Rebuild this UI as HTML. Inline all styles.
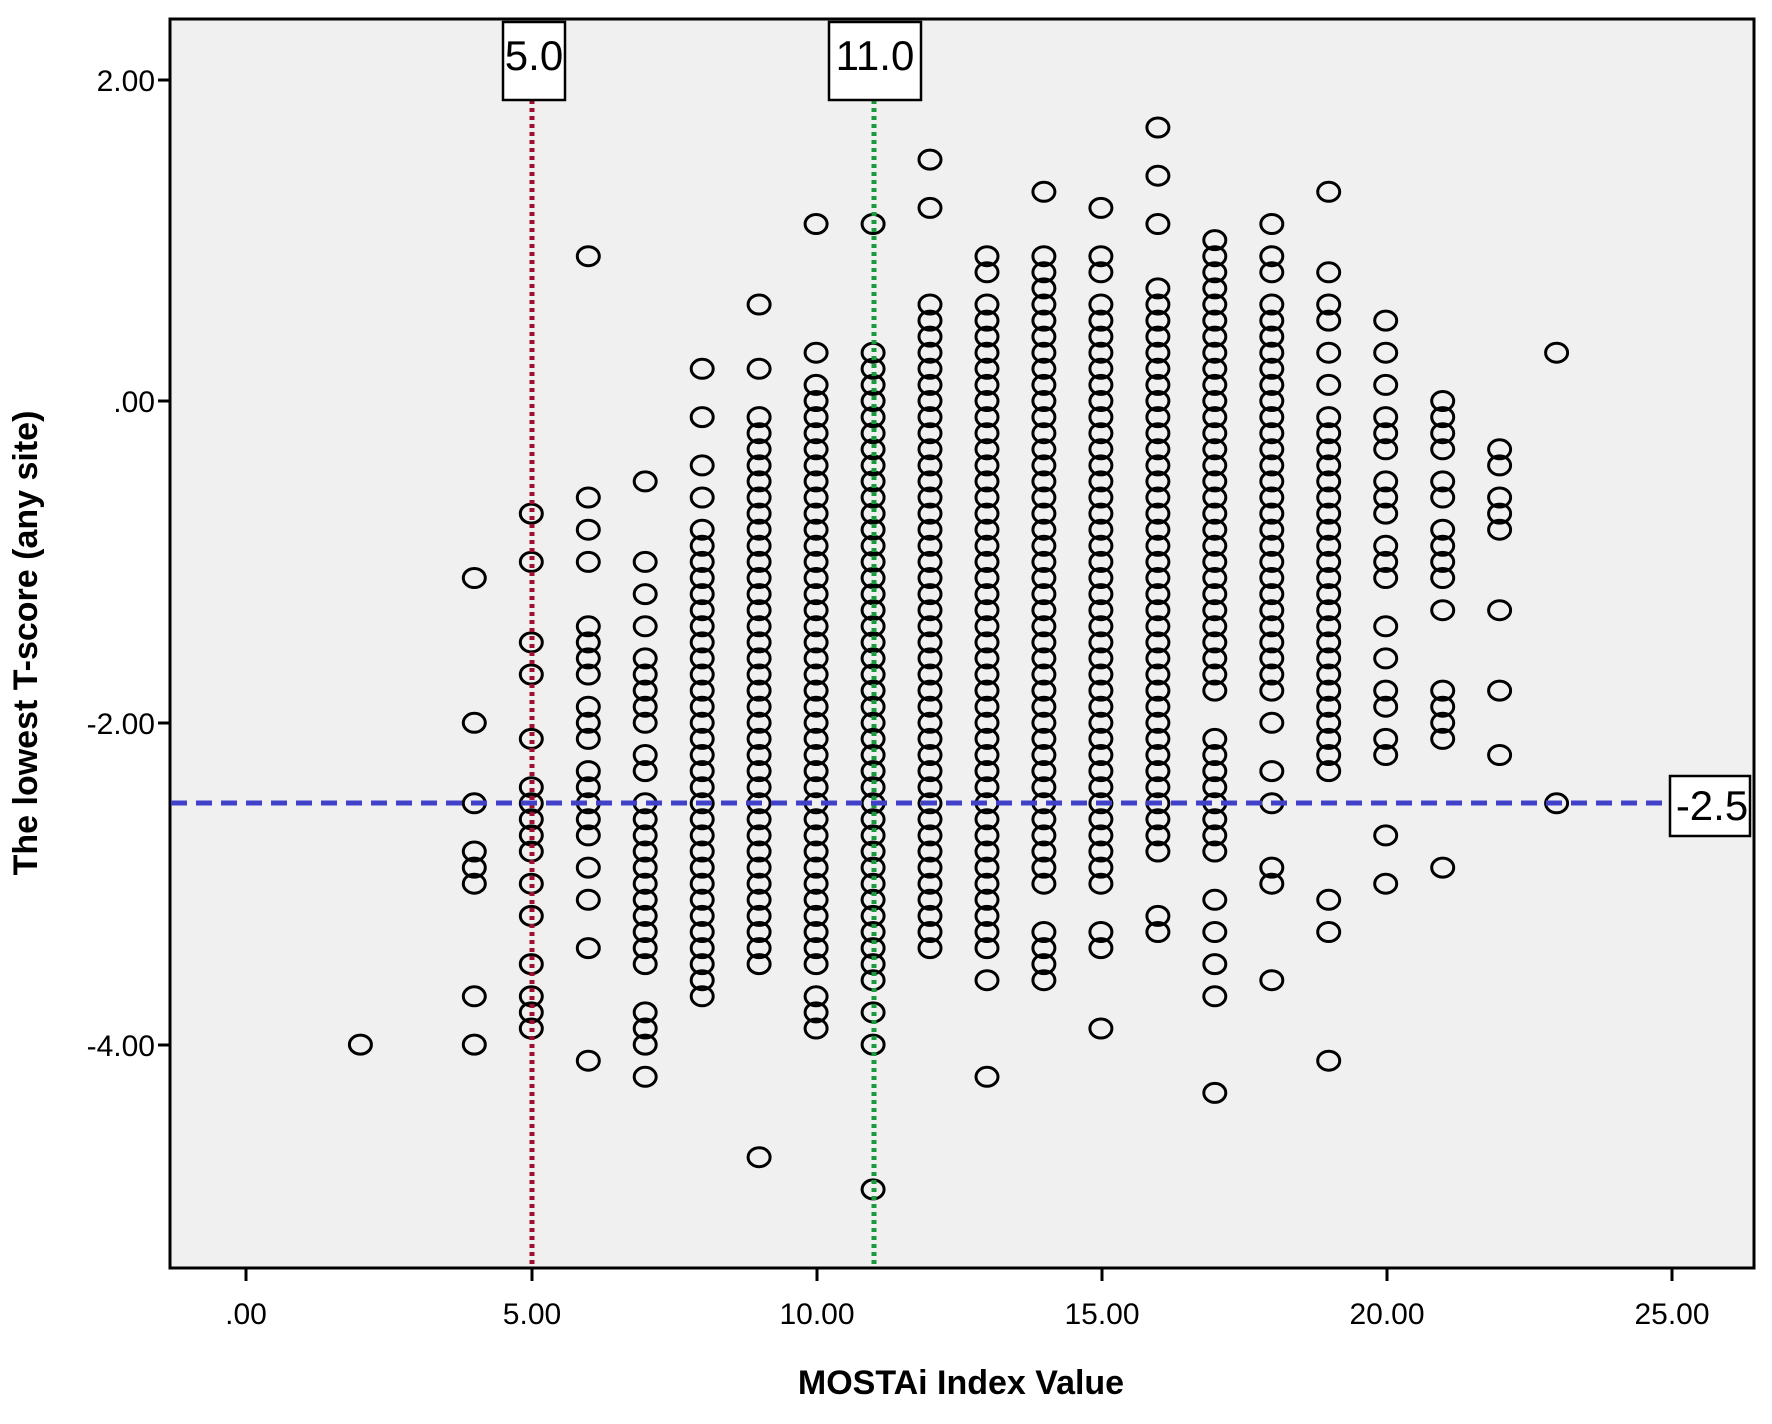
<!DOCTYPE html>
<html><head><meta charset="utf-8"><style>
html,body{margin:0;padding:0;background:#fff;}
svg{display:block;font-family:"Liberation Sans",sans-serif;}
</style></head><body>
<svg id="s" width="1772" height="1424" xmlns="http://www.w3.org/2000/svg">
<rect x="170" y="19" width="1584" height="1249" fill="#f0f0f0" stroke="#000" stroke-width="3"/>
<g stroke="#000" stroke-width="3">
<line x1="158" y1="80" x2="170" y2="80"/><line x1="158" y1="401" x2="170" y2="401"/>
<line x1="158" y1="723" x2="170" y2="723"/><line x1="158" y1="1045" x2="170" y2="1045"/>
<line x1="246" y1="1268" x2="246" y2="1281"/><line x1="532" y1="1268" x2="532" y2="1281"/>
<line x1="817" y1="1268" x2="817" y2="1281"/><line x1="1102" y1="1268" x2="1102" y2="1281"/>
<line x1="1387" y1="1268" x2="1387" y2="1281"/><line x1="1672" y1="1268" x2="1672" y2="1281"/>
</g>
<g font-size="30" text-anchor="end" fill="#000">
<text x="155" y="91">2.00</text><text x="155" y="412">.00</text>
<text x="155" y="734">-2.00</text><text x="155" y="1056">-4.00</text>
</g>
<g font-size="30" text-anchor="middle" fill="#000">
<text x="246" y="1324">.00</text><text x="532" y="1324">5.00</text><text x="817" y="1324">10.00</text>
<text x="1102" y="1324">15.00</text><text x="1387" y="1324">20.00</text><text x="1672" y="1324">25.00</text>
</g>
<text x="961" y="1394" font-size="34" font-weight="bold" text-anchor="middle">MOSTAi Index Value</text>
<text transform="translate(37,643) rotate(-90)" font-size="34" font-weight="bold" text-anchor="middle">The lowest T-score (any site)</text>
<g id="pts" fill="none" stroke="#000" stroke-width="3"></g>
<line x1="532" y1="100" x2="532" y2="1268" stroke="#a0102a" stroke-width="5" stroke-dasharray="4,4"/>
<line x1="874" y1="100" x2="874" y2="1268" stroke="#1a9a40" stroke-width="5" stroke-dasharray="4,4"/>
<line x1="171" y1="803" x2="1670" y2="803" stroke="#4040c8" stroke-width="5" stroke-dasharray="16,9"/>
<rect x="503" y="22" width="62" height="78" fill="#fff" stroke="#000" stroke-width="2.5"/>
<text x="534" y="70" font-size="42" text-anchor="middle">5.0</text>
<rect x="829" y="22" width="92" height="78" fill="#fff" stroke="#000" stroke-width="2.5"/>
<text x="875" y="70" font-size="42" text-anchor="middle">11.0</text>
<rect x="1670" y="776" width="80" height="60" fill="#fff" stroke="#000" stroke-width="2.5"/>
<text x="1712" y="820" font-size="42" text-anchor="middle">-2.5</text>
</svg>
<script>
function R(a,b){var r=[];for(var v=Math.round(a*10);v>=Math.round(b*10);v--){r.push(v/10);}return r;}
var D={
2:[-4.0],
4:[-1.1,-2.0,-2.5,-2.8,-2.9,-3.0,-3.7,-4.0],
5:[-0.7,-1.0,-1.5,-1.7,-2.1,-2.4,-2.5,-2.6,-2.7,-2.8,-3.0,-3.2,-3.5,-3.7,-3.8,-3.9],
6:[0.9,-0.6,-0.8,-1.0,-1.4,-1.5,-1.6,-1.7,-1.9,-2.0,-2.1,-2.3,-2.4,-2.5,-2.6,-2.7,-2.9,-3.1,-3.4,-4.1],
7:[-0.5,-1.0,-1.2,-1.4,-1.6,-1.7,-1.8,-1.9,-2.0,-2.2,-2.3,-2.5].concat(R(-2.6,-3.5),[-3.8,-3.9,-4.0,-4.2]),
8:[0.2,-0.1,-0.4,-0.6].concat(R(-0.8,-3.7)),
9:[0.6,0.2].concat(R(-0.1,-3.5),[-4.7]),
10:[1.1,0.3,0.1].concat(R(0.0,-3.5),[-3.7,-3.8,-3.9]),
11:[1.1].concat(R(0.3,-3.6),[-3.8,-4.0,-4.9]),
12:[1.5,1.2].concat(R(0.6,-3.4)),
13:[0.9,0.8].concat(R(0.6,-3.4),[-3.6,-4.2]),
14:[1.3].concat(R(0.9,-3.0),[-3.3,-3.4,-3.5,-3.6]),
15:[1.2,0.9,0.8].concat(R(0.6,-3.0),[-3.3,-3.4,-3.9]),
16:[1.7,1.4,1.1].concat(R(0.7,-2.8),[-3.2,-3.3]),
17:R(1.0,-1.8).concat(R(-2.1,-2.8),[-3.1,-3.3,-3.5,-3.7,-4.3]),
18:[1.1,0.9,0.8].concat(R(0.6,-1.8),[-2.0,-2.3,-2.5,-2.9,-3.0,-3.6]),
19:[1.3,0.8,0.6,0.5,0.3,0.1].concat(R(-0.1,-2.3),[-3.1,-3.3,-4.1]),
20:[0.5,0.3,0.1,-0.1,-0.2,-0.3,-0.5,-0.6,-0.7,-0.9,-1.0,-1.1,-1.4,-1.6,-1.8,-1.9,-2.1,-2.2,-2.7,-3.0],
21:[0,-0.1,-0.2,-0.3,-0.5,-0.6,-0.8,-0.9,-1.0,-1.1,-1.3,-1.8,-1.9,-2.0,-2.1,-2.9],
22:[-0.3,-0.4,-0.6,-0.7,-0.8,-1.3,-1.8,-2.2],
23:[0.3,-2.5]};
var g=document.getElementById('pts'),h='';
for(var k in D){var x=246.5+k*56.96;D[k].forEach(function(v){var y=401-v*160.9;h+='<ellipse cx="'+x.toFixed(1)+'" cy="'+y.toFixed(1)+'" rx="11" ry="9.5"/>';});}
g.innerHTML=h;
</script>
</body></html>
